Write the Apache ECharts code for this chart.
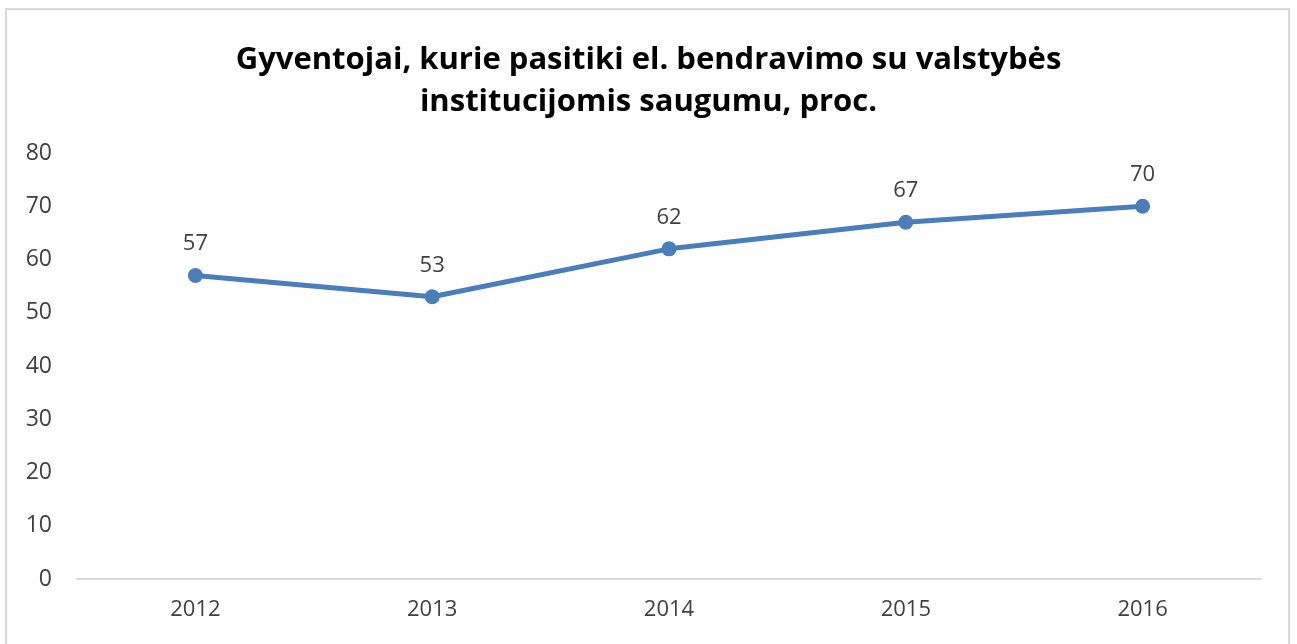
<!DOCTYPE html>
<html>
<head>
<meta charset="utf-8">
<script src="https://cdn.jsdelivr.net/npm/echarts@6/dist/echarts.min.js"></script>
<style>
  body { margin: 0; background: #fff; }
  #main { width: 1297px; height: 644px; }
</style>
</head>
<body>
<div id="main"></div>
<script>
var years = ['2012', '2013', '2014', '2015', '2016'];
var values = [57, 53, 62, 67, 70];
var yTicks = [0, 10, 20, 30, 40, 50, 60, 70, 80];

var myChart = echarts.init(document.getElementById('main'));
var font = '"Open Sans", "Noto Sans", sans-serif';

var option = {
    animation: false,
    backgroundColor: '#fff',
    graphic: [{
        type: 'rect',
        shape: { x: 6, y: 9, width: 1283, height: 660 },
        style: { fill: 'none', stroke: '#d9d9d9', lineWidth: 2 },
        silent: true
    }],
    title: {
        text: 'Gyventojai, kurie pasitiki el. bendravimo su valstybės\ninstitucijomis saugumu, proc.',
        left: 'center',
        top: 34,
        textStyle: {
            fontFamily: font,
            fontWeight: 'bold',
            fontSize: 31,
            color: '#000',
            lineHeight: 42
        }
    },
    grid: { left: 77, right: 36, top: 153, bottom: 65 },
    xAxis: {
        type: 'category',
        data: years,
        boundaryGap: true,
        axisLine: { lineStyle: { color: '#d9d9d9', width: 2 } },
        axisTick: { show: false },
        axisLabel: { fontFamily: font, fontSize: 22, color: '#404040', margin: 20 }
    },
    yAxis: {
        type: 'value',
        min: yTicks[0],
        max: yTicks[yTicks.length - 1],
        interval: 10,
        splitLine: { show: false },
        axisLine: { show: false },
        axisTick: { show: false },
        axisLabel: { fontFamily: font, fontSize: 23, color: '#404040', margin: 25 }
    },
    series: [{
        type: 'line',
        data: values,
        symbol: 'circle',
        symbolSize: 15,
        lineStyle: { color: '#4a7ebb', width: 5 },
        itemStyle: { color: '#4a7ebb' },
        label: {
            show: true,
            position: 'top',
            distance: 13,
            fontFamily: font,
            fontSize: 22,
            color: '#404040'
        }
    }]
};
myChart.setOption(option);
</script>
</body>
</html>
